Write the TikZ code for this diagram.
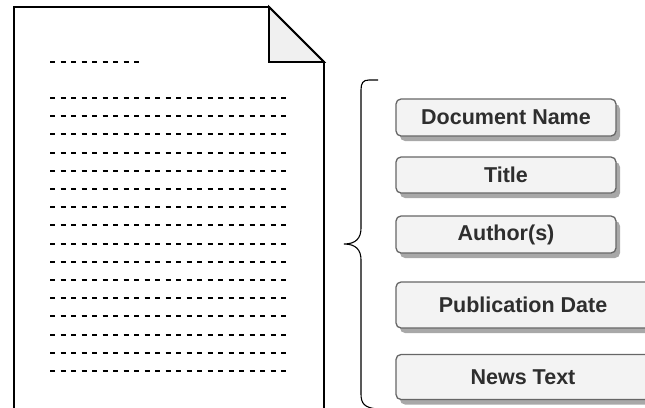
\documentclass[tikz,border=0pt]{standalone}
\usepackage{fontspec}
\setmainfont{Liberation Sans}
\usetikzlibrary{shadows}
\definecolor{fieldfill}{HTML}{F3F3F3}
\definecolor{fieldedge}{HTML}{666666}
\definecolor{fieldshadow}{HTML}{A8A8A8}
\definecolor{fieldtext}{HTML}{2E2E2E}
\definecolor{foldfill}{HTML}{F0F0F0}
\tikzset{
  field/.style={draw=fieldedge, fill=fieldfill, line width=1.3pt,
    rounded corners=5pt, inner sep=0pt, anchor=center,
    font=\fontsize{21.5}{25}\selectfont\bfseries, text=fieldtext,
    general shadow={fill=fieldshadow, shadow xshift=4pt, shadow yshift=-5pt}},
  textline/.style={line width=1.9pt, dash pattern=on 5.4pt off 5.1pt},
  sheet/.style={line width=1.8pt, line join=miter},
}
\begin{document}
\begin{tikzpicture}[x=1pt, y=-1pt]
  \useasboundingbox (0,0) rectangle (645,407);
  \clip (0,0) rectangle (645,407);

  % page with folded corner
  \coordinate (pbl) at (14,430);
  \coordinate (ptl) at (14,7);
  \coordinate (fa) at (269,7);
  \coordinate (fb) at (324,62);
  \coordinate (fc) at (269,62);
  \coordinate (pbr) at (324,430);
  \draw[sheet, fill=white] (pbl) -- (ptl) -- (fa) -- (fb) -- (pbr);
  \draw[sheet, fill=foldfill] (fa) -- (fc) -- (fb) -- cycle;

  % text lines on the page
  \draw[textline] (50,62) -- (140,62);
  \foreach \k in {0,...,15}{
    \draw[textline] (50,{98+18.2*\k}) -- (286.5,{98+18.2*\k});
  }

  % curly brace gathering the fields
  \coordinate (bt) at (378,80);
  \coordinate (bm) at (344,244);
  \coordinate (bb) at (378,409);
  \draw[line width=1.1pt]
    (bt) -- (369,80) .. controls (363,80) and (361,83) .. (361,90)
    -- (361,228) .. controls (361,238) and (356,244) .. (bm)
    .. controls (356,244) and (361,250) .. (361,260)
    -- (361,394) .. controls (361,403) and (364,408) .. (bb);

  % metadata fields
  \node[field, minimum width=220pt, minimum height=37pt] (docname) at (506,117.5) {Document Name};
  \node[field, minimum width=220pt, minimum height=36pt] (title) at (506,175) {Title};
  \node[field, minimum width=220pt, minimum height=37pt] (author) at (506,234.5) {Author(s)};
  \node[field, minimum width=254pt, minimum height=46pt] (pubdate) at (523,305) {Publication Date};
  \node[field, minimum width=254pt, minimum height=45pt] (newstext) at (523,377) {News Text};
\end{tikzpicture}
\end{document}
